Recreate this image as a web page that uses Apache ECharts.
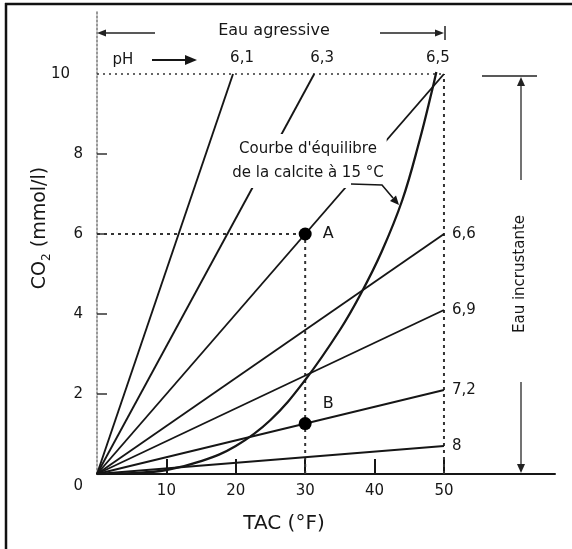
<!DOCTYPE html>
<html><head><meta charset="utf-8">
<script src="https://cdn.jsdelivr.net/npm/echarts@6/dist/echarts.min.js"></script>
<style>html,body{margin:0;padding:0;background:#fff}#c{width:572px;height:549px}</style>
</head><body><div id="c"></div>
<script>
// ---- data ----
const xTickValues = [10, 20, 30, 40, 50];
const yTickValues = [2, 4, 6, 8];
const yLabelValues = [0, 2, 4, 6, 8, 10];
const phNames  = ['6,1', '6,3', '6,5', '6,6', '6,9', '7,2', '8'];
const phEndTAC = [19.6, 31.3, 50, 50, 50, 50, 50];
const phEndCO2 = [10, 10, 10, 6.0, 4.1, 2.1, 0.7];
const curveTAC = [0, 5, 10, 15, 20, 25, 30, 35, 38, 41, 44, 46.5, 48.3, 48.9];
const curveCO2 = [0, 0.02, 0.1, 0.32, 0.7, 1.35, 2.35, 3.6, 4.5, 5.55, 6.85, 8.35, 9.6, 10.05];
const pointNames = ['A', 'B'];
const pointTAC = [30, 30];
const pointCO2 = [6, 1.26];
const topCO2 = 10;
const rightTAC = 50;

const FONT = "'DejaVu Sans', sans-serif";
const INK = '#161616';
const chart = echarts.init(document.getElementById('c'), null, {renderer: 'canvas'});

const series = [];
// dotted guide lines
const guides = [
  [[0, topCO2], [rightTAC, topCO2]],
  [[rightTAC, 0], [rightTAC, topCO2]],
  [[0, pointCO2[0]], [pointTAC[0], pointCO2[0]]],
  [[pointTAC[0], 0], [pointTAC[0], pointCO2[0]]]
];
guides.forEach((g, i) => {
  series.push({
    type: 'line', data: g, symbol: 'none', silent: true, z: 1,
    lineStyle: {color: '#333', width: i === 0 ? 1.6 : 2, type: i === 0 ? [2, 4] : [3, 4]}
  });
});
// pH lines
const labelOffsets = [[9, 0], [8, 0], [-6, 0]];
phNames.forEach((n, i) => {
  const top = phEndCO2[i] >= topCO2;
  series.push({
    type: 'line', symbol: 'circle', symbolSize: 0, showSymbol: true, z: 3,
    itemStyle: {color: 'rgba(0,0,0,0)'},
    lineStyle: {color: INK, width: 1.9},
    data: [
      [0, 0],
      {value: [phEndTAC[i], phEndCO2[i]],
       label: top
         ? {show: true, position: 'top', distance: 8, offset: labelOffsets[i], formatter: n}
         : {show: true, position: 'right', distance: 8, formatter: n}}
    ],
    label: {fontFamily: FONT, fontSize: 15, color: INK}
  });
});
// calcite equilibrium curve
series.push({
  type: 'line', smooth: 0.4, symbol: 'none', z: 3,
  lineStyle: {color: INK, width: 2.3},
  data: curveTAC.map((t, i) => [t, curveCO2[i]])
});
// points A, B
series.push({
  type: 'scatter', symbolSize: 13, z: 6,
  itemStyle: {color: '#000', opacity: 1},
  data: pointNames.map((n, i) => ({
    name: n, value: [pointTAC[i], pointCO2[i]],
    label: i === 0 ? {position: 'right', distance: 11} : {position: 'right', distance: 11, offset: [0, -20]}
  })),
  label: {show: true, formatter: '{b}', fontFamily: FONT, fontSize: 16, color: INK, opacity: 1}
});

const option = {
  animation: false,
  backgroundColor: '#fff',
  grid: {left: 97, top: 10, right: 17, bottom: 75},
  xAxis: {
    type: 'value', min: 0, max: 66,
    axisLine: {lineStyle: {color: INK, width: 2}},
    axisTick: {inside: true, length: 15, customValues: xTickValues, lineStyle: {color: INK, width: 2}},
    axisLabel: {customValues: xTickValues, margin: 10, fontFamily: FONT, fontSize: 15, color: INK},
    splitLine: {show: false}
  },
  yAxis: {
    type: 'value', min: 0, max: 11.6,
    axisLine: {show: true, lineStyle: {color: '#777', width: 1.5, type: [2, 2]}},
    axisTick: {show: true, inside: true, length: 10, customValues: yTickValues, lineStyle: {color: '#333', width: 1.5}},
    axisLabel: {
      customValues: yLabelValues, margin: 14, fontFamily: FONT, fontSize: 15, color: INK,
      formatter: v => v === 0 ? '{z|0}' : (v === 10 ? '{t|10}' : String(v)),
      rich: {
        z: {fontFamily: FONT, fontSize: 15, color: INK, padding: [24, 0, 0, 0]},
        t: {fontFamily: FONT, fontSize: 15, color: INK, padding: [0, 13, 0, 0]}
      }
    },
    splitLine: {show: false}
  },
  series: series,
  graphic: [
    // frame (top + left)
    {type: 'line', shape: {x1: 5, y1: 4, x2: 572, y2: 4}, style: {stroke: '#111', lineWidth: 2.5}, z: 100},
    {type: 'line', shape: {x1: 6, y1: 3, x2: 6, y2: 549}, style: {stroke: '#111', lineWidth: 2.5}, z: 100},
    // Eau agressive
    {type: 'text', x: 274, y: 31, style: {text: 'Eau agressive', font: "16px 'DejaVu Sans'", fill: INK, align: 'center', verticalAlign: 'middle'}, z: 100},
    {type: 'line', shape: {x1: 104, y1: 33, x2: 155, y2: 33}, style: {stroke: '#222', lineWidth: 1.5}, z: 100},
    {type: 'polygon', shape: {points: [[97, 33], [106, 29.5], [106, 36.5]]}, style: {fill: '#222'}, z: 100},
    {type: 'line', shape: {x1: 380, y1: 33, x2: 437, y2: 33}, style: {stroke: '#222', lineWidth: 1.5}, z: 100},
    {type: 'polygon', shape: {points: [[444, 33], [435, 29.5], [435, 36.5]]}, style: {fill: '#222'}, z: 100},
    {type: 'line', shape: {x1: 445, y1: 26, x2: 445, y2: 40}, style: {stroke: '#222', lineWidth: 1.5}, z: 100},
    // pH arrow
    {type: 'text', x: 123, y: 60, style: {text: 'pH', font: "15px 'DejaVu Sans'", fill: INK, align: 'center', verticalAlign: 'middle'}, z: 100},
    {type: 'line', shape: {x1: 152, y1: 60, x2: 188, y2: 60}, style: {stroke: INK, lineWidth: 2}, z: 100},
    {type: 'polygon', shape: {points: [[197, 60], [185, 55], [185, 65]]}, style: {fill: INK}, z: 100},
    // Eau incrustante
    {type: 'line', shape: {x1: 482, y1: 76, x2: 537, y2: 76}, style: {stroke: '#222', lineWidth: 1.5}, z: 100},
    {type: 'line', shape: {x1: 521, y1: 84, x2: 521, y2: 180}, style: {stroke: '#444', lineWidth: 1.5}, z: 100},
    {type: 'polygon', shape: {points: [[521, 77], [517, 86], [525, 86]]}, style: {fill: '#222'}, z: 100},
    {type: 'line', shape: {x1: 521, y1: 382, x2: 521, y2: 466}, style: {stroke: '#444', lineWidth: 1.5}, z: 100},
    {type: 'polygon', shape: {points: [[521, 473], [517, 464], [525, 464]]}, style: {fill: '#222'}, z: 100},
    {type: 'text', x: 520, y: 274, rotation: Math.PI / 2, style: {text: 'Eau incrustante', font: "15px 'DejaVu Sans'", fill: INK, align: 'center', verticalAlign: 'middle'}, z: 100},
    // Courbe label
    {type: 'text', x: 308, y: 161, z: 50, style: {
      text: "Courbe d'équilibre\nde la calcite à 15 °C", font: "15px 'DejaVu Sans'", fill: INK,
      align: 'center', verticalAlign: 'middle', lineHeight: 24, backgroundColor: '#fff', padding: [3, 3]}},
    {type: 'polyline', shape: {points: [[351, 184], [382, 185], [393, 198]]}, style: {stroke: INK, lineWidth: 1.6, fill: null}, z: 100},
    {type: 'polygon', shape: {points: [[399, 205], [390, 201], [396, 195.5]]}, style: {fill: INK}, z: 100},
    // axis names
    {type: 'text', x: 284, y: 524, style: {text: 'TAC (°F)', font: "20px 'DejaVu Sans'", fill: INK, align: 'center', verticalAlign: 'middle'}, z: 100},
    {type: 'text', x: 40, y: 228, rotation: Math.PI / 2, z: 100, style: {
      text: '{a|CO}{s|2}{a| (mmol/l)}', align: 'center', verticalAlign: 'middle',
      rich: {
        a: {font: "19px 'DejaVu Sans'", fill: INK, lineHeight: 26},
        s: {font: "12px 'DejaVu Sans'", fill: INK, lineHeight: 12, verticalAlign: 'bottom'}
      }}}
  ]
};
chart.setOption(option);
</script>
</body></html>
